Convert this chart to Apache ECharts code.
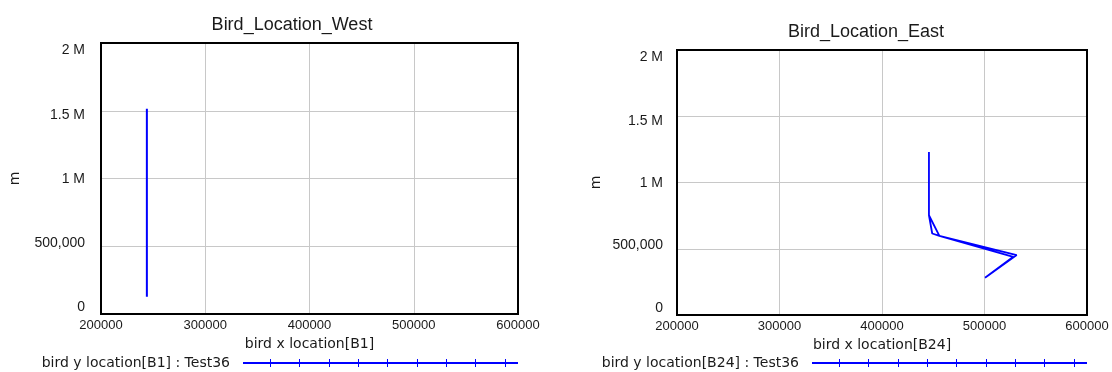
<!DOCTYPE html>
<html>
<head>
<meta charset="utf-8">
<script src="https://cdn.jsdelivr.net/npm/echarts@6/dist/echarts.min.js"></script>
<style>
html,body{margin:0;padding:0;background:#fff;}
#chart{width:1112px;height:372px;}
</style>
</head>
<body>
<div id="chart"></div>
<script>
// ---- data ----
const xTickValues = [200000, 300000, 400000, 500000, 600000];
const xTickLabels = ['200000', '300000', '400000', '500000', '600000'];
const yTickValues = [0, 500000, 1000000, 1500000, 2000000];
const yTickLabels = ['0', '500,000', '1 M', '1.5 M', '2 M'];

const westName = 'bird y location[B1] : Test36';
const westX = [244000, 244000, 244000, 244000];
const westY = [1515000, 1000000, 500000, 128000];

const eastName = 'bird y location[B24] : Test36';
const eastX = [445800, 445800, 445800, 449000, 456000, 531400, 500500, 528100, 456000, 445800];
const eastY = [1230000, 1000000, 753000, 615000, 597000, 452000, 281000, 439000, 597000, 753000];

const titles = ['Bird_Location_West', 'Bird_Location_East'];
const xNames = ['bird x location[B1]', 'bird x location[B24]'];
const yName = 'm';

// ---- styling helpers ----
const BLUE = '#0000ff';
const TXT = '#1a1a1a';
const labelOffsetStyle = ['n7', 'n3', 'p1', 'p4', 'p7']; // per y tick index
const rich = {
  n7: {padding: [0, 0, 14, 0]},
  n3: {padding: [0, 0, 7, 0]},
  p1: {padding: [2, 0, 0, 0]},
  p4: {padding: [9, 0, 0, 0]},
  p7: {padding: [15, 0, 0, 0]}
};
Object.keys(rich).forEach(k => {
  rich[k].fontFamily = 'Liberation Sans';
  rich[k].fontSize = 14;
  rich[k].color = TXT;
});

function xFmt(v) {
  const i = xTickValues.indexOf(v);
  return i >= 0 ? xTickLabels[i] : '';
}
function yFmt(v) {
  const i = yTickValues.indexOf(v);
  return i >= 0 ? '{' + labelOffsetStyle[i] + '|' + yTickLabels[i] + '}' : '';
}

const tickPos = [27, 56, 86, 115, 144, 174, 203, 232, 262];
const legendIcon = 'path://M0 3H275V5H0Z' + tickPos.map(x => 'M' + x + ' 0H' + (x + 1) + 'V8H' + x + 'Z').join('');

function pairs(xs, ys) { return xs.map((x, i) => [x, ys[i]]); }

function xAxis(gi) {
  return {
    type: 'value', gridIndex: gi, min: 200000, max: 600000, interval: 100000,
    axisLine: {show: false}, axisTick: {show: false},
    splitLine: {show: true, showMinLine: false, showMaxLine: false, lineStyle: {color: '#c8c8c8', width: 1}},
    axisLabel: {formatter: xFmt, fontFamily: 'Liberation Sans', fontSize: 13, color: TXT, margin: 5},
    name: xNames[gi], nameLocation: 'middle', nameGap: 20,
    nameTextStyle: {fontFamily: 'DejaVu Sans', fontSize: 14, color: TXT}
  };
}
function yAxis(gi, labelMargin, nameGap) {
  return {
    type: 'value', gridIndex: gi, min: 0, max: 2000000, interval: 500000,
    axisLine: {show: false}, axisTick: {show: false},
    splitLine: {show: true, showMinLine: false, showMaxLine: false, lineStyle: {color: '#c8c8c8', width: 1}},
    axisLabel: {formatter: yFmt, rich: rich, fontFamily: 'Liberation Sans', fontSize: 14, color: TXT, margin: labelMargin},
    name: yName, nameLocation: 'middle', nameGap: nameGap, nameRotate: 90,
    nameTextStyle: {fontFamily: 'DejaVu Sans', fontSize: 14, color: TXT}
  };
}
function legend(name, right) {
  return {
    data: [name], right: right, top: 356, align: 'right', orient: 'horizontal', padding: 0,
    icon: legendIcon, itemWidth: 275, itemHeight: 8, selectedMode: false,
    itemStyle: {borderWidth: 0},
    textStyle: {fontFamily: 'DejaVu Sans', fontSize: 14, color: TXT, padding: [0, 8, 0, 0]}
  };
}

const chart = echarts.init(document.getElementById('chart'), null, {renderer: 'canvas'});
chart.setOption({
  animation: false,
  backgroundColor: '#ffffff',
  title: [
    {text: titles[0], left: 287, top: 11, textAlign: 'center',
     textStyle: {fontFamily: 'Liberation Sans', fontSize: 18, fontWeight: 'normal', color: TXT}},
    {text: titles[1], left: 861, top: 18, textAlign: 'center',
     textStyle: {fontFamily: 'Liberation Sans', fontSize: 18, fontWeight: 'normal', color: TXT}}
  ],
  grid: [
    {left: 101, top: 43, width: 417, height: 271, show: true, borderColor: '#000', borderWidth: 2, z: 5, backgroundColor: 'transparent'},
    {left: 677, top: 50, width: 410, height: 265, show: true, borderColor: '#000', borderWidth: 2, z: 5, backgroundColor: 'transparent'}
  ],
  xAxis: [xAxis(0), xAxis(1)],
  yAxis: [yAxis(0, 16, 79), yAxis(1, 14, 74)],
  legend: [legend(westName, 594), legend(eastName, 25)],
  series: [
    {name: westName, type: 'line', xAxisIndex: 0, yAxisIndex: 0, data: pairs(westX, westY),
     showSymbol: false, symbol: 'none', lineStyle: {color: BLUE, width: 2}, itemStyle: {color: BLUE}},
    {name: eastName, type: 'line', xAxisIndex: 1, yAxisIndex: 1, data: pairs(eastX, eastY),
     showSymbol: false, symbol: 'none', lineStyle: {color: BLUE, width: 1.8}, itemStyle: {color: BLUE}}
  ]
});
</script>
</body>
</html>
